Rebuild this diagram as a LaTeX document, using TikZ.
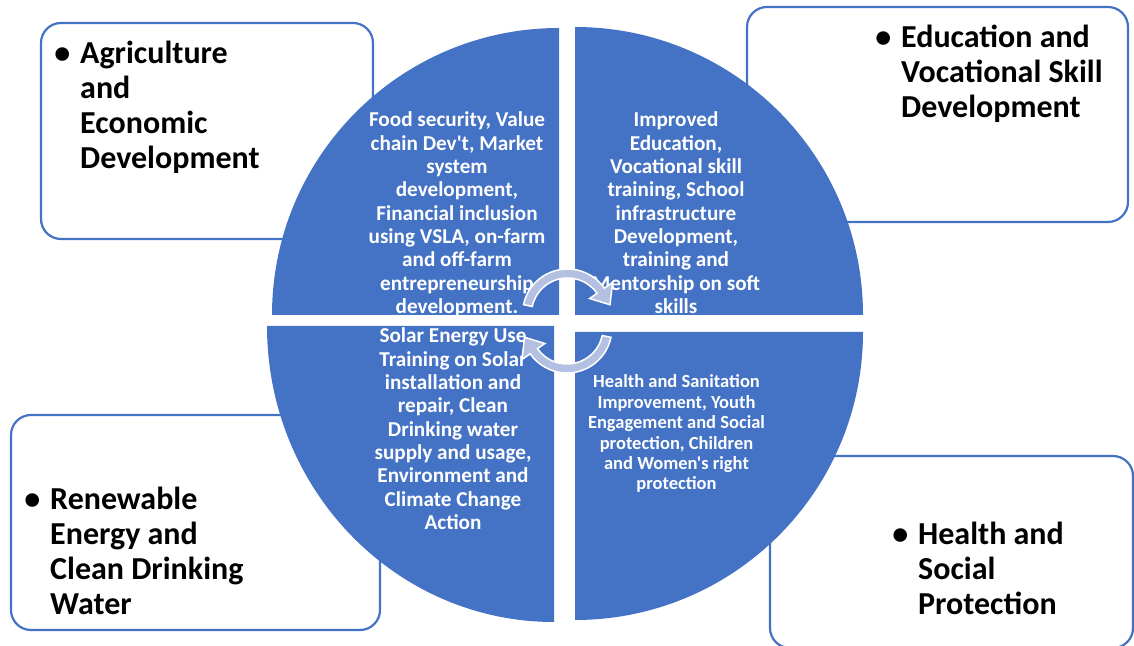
\documentclass[tikz,border=0pt]{standalone}
\usepackage{fontspec}
\setmainfont{Carlito}[Ligatures=TeXOff]
\definecolor{qblue}{HTML}{4472C4}
\definecolor{arrowfill}{RGB}{180,192,226}
\tikzset{
  box/.style={draw=qblue, line width=2.2pt, fill=white, rounded corners=20pt},
  quad/.style={fill=qblue},
  qtext/.style={text=white, font=\bfseries\fontsize{21.2}{23.3}\selectfont, align=center, inner sep=0pt, anchor=base},
  qsmall/.style={qtext, font=\bfseries\fontsize{18.5}{20.4}\selectfont},
  ltext/.style={text=black, font=\bfseries\fontsize{32}{35}\selectfont, align=left, inner sep=0pt, anchor=base west},
  cyc/.style={fill=arrowfill, draw=white, line width=1.5pt, line join=miter}
}
\newcommand{\bul}{\llap{\textbullet\hspace{10pt}}}
\begin{document}
\begin{tikzpicture}[x=1pt,y=1pt]
\useasboundingbox (0,0) rectangle (1134,645);
% corner boxes
\draw[box] (41,406) rectangle (373,622);
\draw[box] (747,423) rectangle (1128,638);
\draw[box] (11,15) rectangle (380,230);
\draw[box] (770,-3) rectangle (1133,189);
% box labels (anchor = baseline of last line)
\node[ltext] (agri) at (80,476) {\bul Agriculture\\and\\Economic\\Development};
\node[ltext] (edu) at (901,527) {\bul Education and\\Vocational Skill\\Development};
\node[ltext] (renew) at (50,31) {\bul Renewable\\Energy and\\Clean Drinking\\Water};
\node[ltext] (health) at (918,31) {\bul Health and\\Social\\Protection};
% quadrants
\fill[quad] (559,330) -- (272,330) arc[start angle=180, end angle=90, radius=287pt] -- cycle;
\fill[quad] (575,330) -- (575,618) arc[start angle=90, end angle=0, radius=288pt] -- cycle;
\fill[quad] (554,319) -- (554,23) arc[start angle=270, end angle=180, x radius=287pt, y radius=296pt] -- cycle;
\fill[quad] (575,313) -- (863,313) arc[start angle=0, end angle=-90, radius=288pt] -- cycle;
% quadrant texts
\node[qtext] (tagri) at (457,331.6) {Food security, Value\\chain Dev't, Market\\system\\development,\\Financial inclusion\\using VSLA, on-farm\\and off-farm\\entrepreneurship\\development.};
\node[qtext] (tedu) at (676,331.6) {Improved\\Education,\\Vocational skill\\training, School\\infrastructure\\Development,\\training and\\Mentorship on soft\\skills};
\node[qtext] (trenew) at (453,115.6) {Solar Energy Use\\Training on Solar\\installation and\\repair, Clean\\Drinking water\\supply and usage,\\Environment and\\Climate Change\\Action};
\node[qsmall] (thealth) at (676.5,155) {Health and Sanitation\\Improvement, Youth\\Engagement and Social\\protection, Children\\and Women's right\\protection};
% circular arrows
\begin{scope}[shift={(567.5,331)}]
\filldraw[cyc] (168:45pt) arc[start angle=168, end angle=35, radius=45pt] -- (35:55pt) -- (12.3:43.5pt) -- (35:27pt) -- (35:36pt) arc[start angle=35, end angle=168, radius=36pt] -- cycle;
\end{scope}
\begin{scope}[shift={(567,317)}]
\filldraw[cyc] (-12:45pt) arc[start angle=-12, end angle=-145, radius=45pt] -- (215:55pt) -- (192.3:43.5pt) -- (215:27pt) -- (215:36pt) arc[start angle=-145, end angle=-12, radius=36pt] -- cycle;
\end{scope}
\end{tikzpicture}
\end{document}
